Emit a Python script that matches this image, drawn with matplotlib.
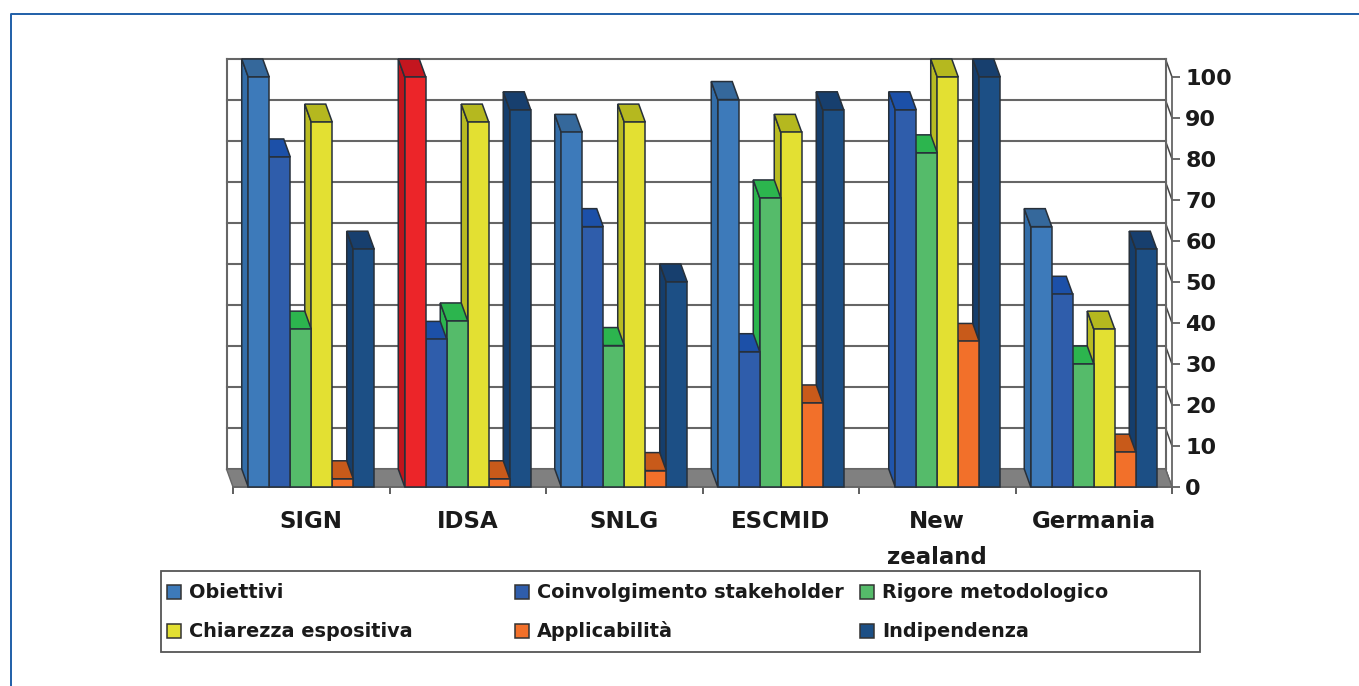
import matplotlib
matplotlib.use('Agg')
import matplotlib.pyplot as plt
from matplotlib.patches import Polygon, Rectangle

# data
categories = ['SIGN', 'IDSA', 'SNLG', 'ESCMID', 'New\nzealand', 'Germania']
series_names = ['Obiettivi', 'Coinvolgimento stakeholder', 'Rigore metodologico',
                'Chiarezza espositiva', 'Applicabilità', 'Indipendenza']
obiettivi = [100, 100, 86.5, 94.5, 0, 63.5]
coinvolgimento = [80.5, 36, 63.5, 33, 92, 47]
rigore = [38.5, 40.5, 34.5, 70.5, 81.5, 30]
chiarezza = [89, 89, 89, 86.5, 100, 38.5]
applicabilita = [2, 2, 4, 20.5, 35.5, 8.5]
indipendenza = [58, 92, 50, 92, 100, 58]
y_ticks = [0, 10, 20, 30, 40, 50, 60, 70, 80, 90, 100]

series = [obiettivi, coinvolgimento, rigore, chiarezza, applicabilita, indipendenza]
colors = ['#3d7aba', '#2f5dab', '#55bb6a', '#e3e032', '#f2702a', '#1c4f85']
side_colors = ['#336da8', '#2055ac', '#2cb54e', '#b8bb22', '#c85a1a', '#153e6c']
cap_colors = ['#35689b', '#1c50a8', '#2cb54e', '#b5b81f', '#c85a1a', '#173f6e']
RED = ('#ec2529', '#c0141c', '#c4161f')  # IDSA Obiettivi is red in the original

W, H = 1359, 686
BAR_W = 21 / 156.5
GAP = (1 - 6 * BAR_W) / 2
DX = 6.5 / 156.5   # depth offset in data units
DY = 18 / 4.1
GRID = '#666666'
EDGE = '#27303a'
FONT = 'DejaVu Sans'

fig = plt.figure(figsize=(W / 100, H / 100), dpi=100, facecolor='white')

# overlay in pixel coordinates for frame and legend
bg = fig.add_axes([0, 0, 1, 1])
bg.set_xlim(0, W)
bg.set_ylim(H, 0)
bg.axis('off')
bg.plot([10.5, 10.5, W], [H, 13.5, 13.5], color='#1f5fa8', lw=1.4)

# main chart axes: x in groups, y in percent
ax = fig.add_axes([233 / W, 1 - 487 / H, (1172 - 233) / W, (487 - 77) / H])
ax.set_xlim(0, 6)
ax.set_ylim(0, 100)
ax.patch.set_alpha(0)
for s in ['top', 'left']:
    ax.spines[s].set_visible(False)
for s in ['right', 'bottom']:
    ax.spines[s].set_color(GRID)
    ax.spines[s].set_linewidth(1.3)

# back wall
for v in y_ticks:
    ax.plot([-DX, 6 - DX], [v + DY, v + DY], color=GRID, lw=1.5, clip_on=False, zorder=1)
    ax.plot([6 - DX, 6], [v + DY, v], color='#444444', lw=1.1, clip_on=False, zorder=1)
ax.plot([-DX, -DX], [DY, 100 + DY], color=GRID, lw=1.5, clip_on=False, zorder=1)
ax.plot([6 - DX, 6 - DX], [DY, 100 + DY], color=GRID, lw=1.5, clip_on=False, zorder=1)

# floor
ax.add_patch(Polygon([(0, 0), (-DX, DY), (6 - DX, DY), (6, 0)], closed=True,
                     facecolor='#808080', edgecolor=GRID, lw=1, clip_on=False, zorder=2))

# bars, right to left so the left ones cover the side faces of the next one
z = 3
for g in range(len(categories) - 1, -1, -1):
    for i in range(len(series) - 1, -1, -1):
        v = series[i][g]
        if v <= 0:
            continue
        if g == 1 and i == 0:
            c, c_side, c_cap = RED
        else:
            c, c_side, c_cap = colors[i], side_colors[i], cap_colors[i]
        x0 = g + GAP + i * BAR_W
        x1 = x0 + BAR_W
        side = [(x0, 0), (x0 - DX, DY), (x0 - DX, v + DY), (x0, v)]
        cap = [(x0, v), (x0 - DX, v + DY), (x1 - DX, v + DY), (x1, v)]
        front = [(x0, 0), (x0, v), (x1, v), (x1, 0)]
        ax.add_patch(Polygon(side, closed=True, facecolor=c_side, edgecolor=EDGE,
                             lw=1.1, clip_on=False, zorder=z))
        ax.add_patch(Polygon(cap, closed=True, facecolor=c_cap, edgecolor=EDGE,
                             lw=1.1, clip_on=False, zorder=z))
        ax.add_patch(Polygon(front, closed=True, facecolor=c, edgecolor=EDGE,
                             lw=1.1, clip_on=False, zorder=z))
        z += 1

# axes ticks
ax.yaxis.tick_right()
ax.set_yticks(y_ticks)
ax.set_yticklabels([str(v) for v in y_ticks], fontsize=16, fontweight='bold',
                   family=FONT, color='#1a1a1a')
ax.tick_params(axis='y', length=6, width=1.1, color='#444444', pad=3.5)
ax.set_xticks(range(7))
ax.set_xticklabels([])
ax.tick_params(axis='x', which='major', length=5, width=1.1, color='#333333')
ax.set_xticks([g + 0.5 for g in range(6)], minor=True)
ax.set_xticklabels(categories, minor=True, fontsize=16.5, fontweight='bold',
                   family=FONT, color='#1a1a1a', linespacing=1.75, va='top')
ax.tick_params(axis='x', which='minor', length=0, pad=16.5)

# legend box
bg.add_patch(Rectangle((161, 571), 1039, 81, facecolor='white', edgecolor='#555555', lw=1.3))
leg_x = [167, 515, 860, 167, 515, 860]
leg_y = [592, 592, 592, 631, 631, 631]
for name, col, lx, ly in zip(series_names, colors, leg_x, leg_y):
    bg.add_patch(Rectangle((lx, ly - 7), 14, 14, facecolor=col, edgecolor='#333333', lw=1.1))
    bg.text(lx + 22, ly + 6, name, fontsize=13.9, fontweight='bold', family=FONT,
            color='#1a1a1a', va='baseline', ha='left')

fig.savefig('out.png', dpi=100)
